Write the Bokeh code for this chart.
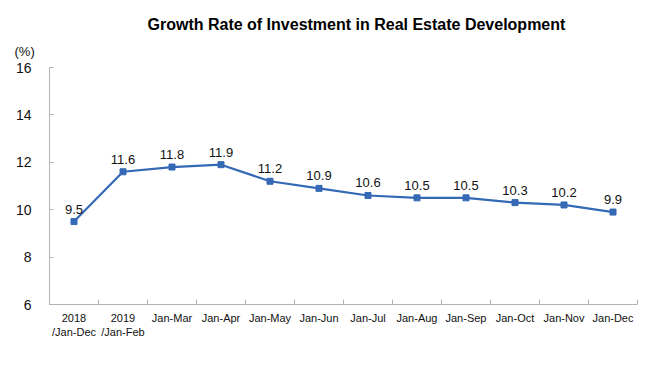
from bokeh.plotting import figure
from bokeh.models import ColumnDataSource, FixedTicker, Range1d, Title
from bokeh.core.properties import value
from bokeh.embed import file_html
from bokeh.resources import INLINE

categories = ["2018\n/Jan-Dec", "2019\n/Jan-Feb", "Jan-Mar", "Jan-Apr", "Jan-May", "Jan-Jun",
              "Jan-Jul", "Jan-Aug", "Jan-Sep", "Jan-Oct", "Jan-Nov", "Jan-Dec"]
growth = [9.5, 11.6, 11.8, 11.9, 11.2, 10.9, 10.6, 10.5, 10.5, 10.3, 10.2, 9.9]
y_ticks = [6, 8, 10, 12, 14, 16]

FONT = "Liberation Sans"
LINE = "#3469b5"
AXIS = "#b4b4b4"

xs = [i + 0.5 for i in range(len(categories))]
src = ColumnDataSource(dict(x=xs, y=growth, lab=[f"{v:.1f}" for v in growth]))

p = figure(width=643, height=376, output_backend="svg", toolbar_location=None,
           x_range=Range1d(0, len(categories)), y_range=Range1d(6, 16),
           min_border_left=49, min_border_right=6, min_border_top=67, min_border_bottom=72)
p.title = None
p.add_layout(Title(text="(%)", align="left", text_font=FONT, text_font_size="13px",
                   text_font_style="normal", text_color="#111111", offset=-35, standoff=18), "above")
p.add_layout(Title(text="Growth Rate of Investment in Real Estate Development",
                   align="left", text_font=FONT, text_font_size="16px",
                   text_font_style="bold", text_color="#000000", offset=98, standoff=0), "above")

p.outline_line_color = None
p.grid.visible = False
p.background_fill_color = "white"
p.border_fill_color = "white"

p.line("x", "y", source=src, line_color=LINE, line_width=2.2)
p.scatter("x", "y", source=src, marker="square", size=6, fill_color=LINE, line_color=LINE)
p.text("x", "y", text="lab", source=src, text_align="center", text_baseline="bottom",
       y_offset=-8, text_font=value(FONT), text_font_size="13px", text_color="#111111")

# x axis
xa = p.xaxis[0]
xa.ticker = FixedTicker(ticks=xs, minor_ticks=list(range(len(categories) + 1)))
xa.major_label_overrides = {x: c for x, c in zip(xs, categories)}
xa.major_tick_line_color = None
xa.minor_tick_in = 5
xa.minor_tick_out = 0
xa.minor_tick_line_color = AXIS
xa.axis_line_color = AXIS
xa.major_label_text_font = FONT
xa.major_label_text_font_size = "11px"
xa.major_label_text_color = "#111111"
xa.major_label_standoff = 1

# y axis
ya = p.yaxis[0]
ya.ticker = FixedTicker(ticks=y_ticks, minor_ticks=[])
ya.major_tick_in = 4
ya.major_tick_out = 0
ya.major_tick_line_color = AXIS
ya.axis_line_color = AXIS
ya.major_label_text_font = FONT
ya.major_label_text_font_size = "14px"
ya.major_label_text_color = "#111111"
ya.major_label_standoff = 18

open("out.html", "w").write(file_html(p, INLINE))
